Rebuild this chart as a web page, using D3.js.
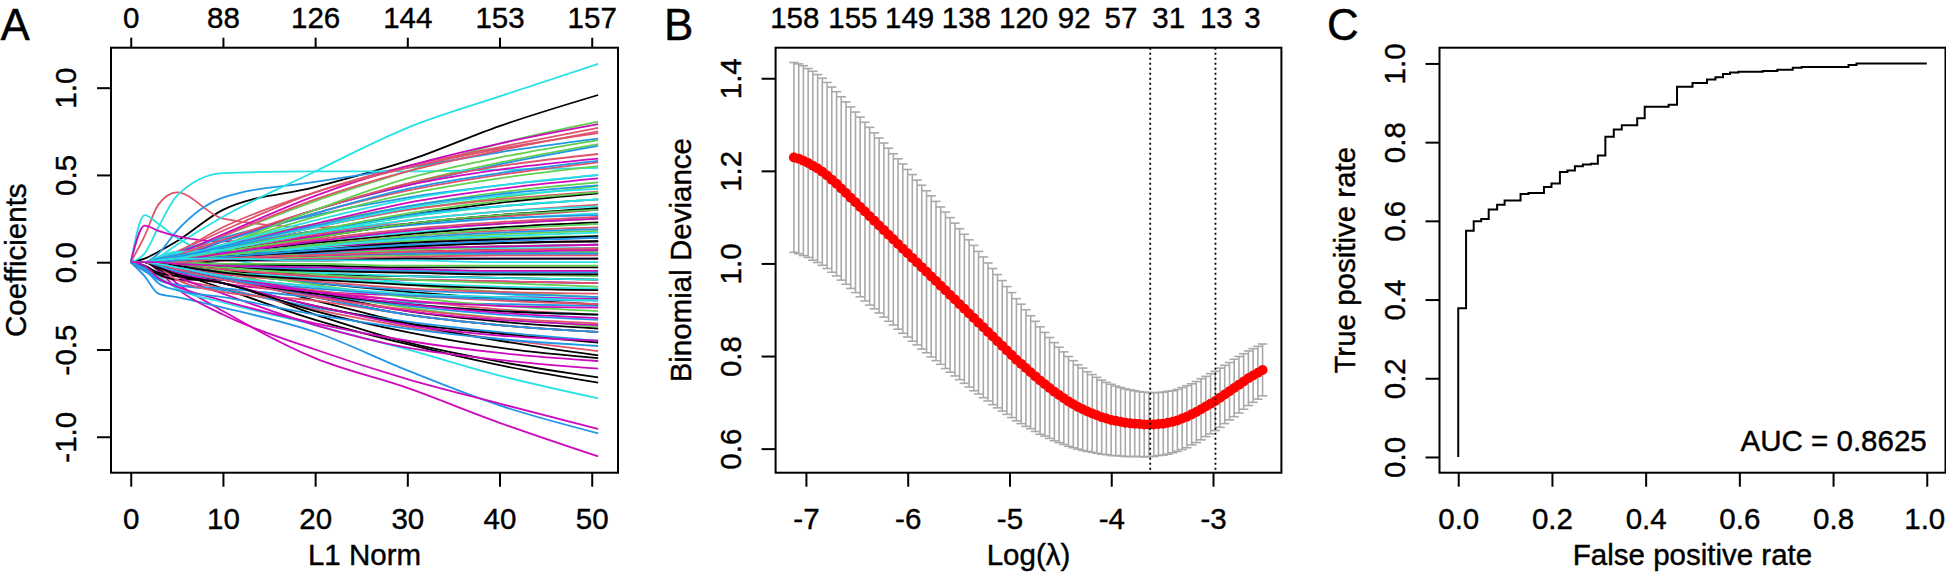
<!DOCTYPE html>
<html><head><meta charset="utf-8">
<script src="https://cdn.jsdelivr.net/npm/d3@7"></script>
<style>
html,body{margin:0;padding:0;background:#fff;}
svg{display:block;font-family:"Liberation Sans",Arial,Helvetica,sans-serif;}
svg text{stroke:#000;stroke-width:0.4px;}
</style></head><body>
<svg id="chart" width="1946" height="572"></svg>
<script>
// ---------------- Panel A: LASSO coefficient paths ----------------
const coefL1 = [0, 1.5, 3, 5, 10, 20, 30, 40, 50.7];
const coefPaths = [
  [0,0.02,0.06,0.12,0.30,0.43,0.58,0.78,0.958],
  [0,0.15,0.33,0.40,0.25,0.20,0.22,0.26,0.30],
  [0,0,0.01,0.05,0.15,0.35,0.52,0.68,0.806],
  [0,0,0.05,0.18,0.37,0.46,0.54,0.63,0.708],
  [0,0,0.03,0.10,0.26,0.52,0.77,0.95,1.136],
  [0,0,-0.04,-0.12,-0.28,-0.55,-0.72,-0.92,-1.113],

  [0,0,-0.02,-0.06,-0.15,-0.33,-0.47,-0.59,-0.69],
  [0,0,0.02,0.06,0.18,0.40,0.55,0.66,0.77],
  [0,0,0,0.03,0.12,0.30,0.45,0.57,0.676],
  [0,-0.08,-0.18,-0.20,-0.26,-0.40,-0.62,-0.82,-0.98],
  [0,0.05,0.20,0.38,0.51,0.52,0.52,0.53,0.54],
  [0,0,-0.05,-0.15,-0.30,-0.50,-0.67,-0.81,-0.956],

  [0,0,-0.04,-0.08,-0.12,-0.30,-0.46,-0.57,-0.66],
  [0,0,0.01,0.04,0.15,0.36,0.52,0.64,0.75],
  [0,0,0,0.02,0.10,0.22,0.32,0.40,0.457],
  [0,0,0,0.03,0.12,0.30,0.44,0.56,0.666],
  [0,0.27,0.22,0.14,0.03,-0.05,-0.12,-0.18,-0.22],
  [0,0.21,0.18,0.15,0.12,0.15,0.22,0.27,0.30],

  [0,0,0,0.02,0.08,0.18,0.27,0.34,0.395],
  [0,-0.05,-0.08,-0.10,-0.15,-0.27,-0.37,-0.44,-0.51],
  [0,0,0,0.01,0.08,0.20,0.30,0.37,0.436],
  [0,0,0.02,0.06,0.14,0.27,0.37,0.44,0.499],
  [0,-0.02,-0.08,-0.15,-0.23,-0.36,-0.50,-0.65,-0.78],
  [0,0,0.02,0.05,0.16,0.38,0.55,0.68,0.791],

  [0,-0.03,-0.07,-0.10,-0.10,-0.22,-0.35,-0.45,-0.534],
  [0,0,0.01,0.04,0.12,0.28,0.41,0.50,0.572],
  [0,0,0,-0.01,-0.06,-0.17,-0.26,-0.32,-0.37],
  [0,-0.03,-0.10,-0.13,-0.16,-0.26,-0.34,-0.40,-0.45],
  [0,0,0.02,0.05,0.10,0.17,0.22,0.25,0.28],
  [0,0,-0.02,-0.08,-0.18,-0.36,-0.49,-0.56,-0.61],

  [0,0,-0.02,-0.05,-0.12,-0.25,-0.35,-0.41,-0.46],
  [0,0,0,0.02,0.08,0.20,0.30,0.36,0.405],
  [0,0,0,0,0.04,0.12,0.18,0.22,0.25],
  [0,-0.05,-0.10,-0.13,-0.15,-0.20,-0.23,-0.24,-0.25],
  [0,0,0.01,0.02,0.05,0.08,0.10,0.11,0.12],
  [0,0,0.01,0.03,0.12,0.30,0.44,0.53,0.593],

  [0,-0.02,-0.06,-0.08,-0.10,-0.20,-0.30,-0.36,-0.40],
  [0,0,-0.03,-0.10,-0.17,-0.22,-0.30,-0.36,-0.40],
  [0,0,0,0.01,0.05,0.09,0.12,0.14,0.15],
  [0,0,0.01,0.04,0.09,0.16,0.21,0.25,0.27],
  [0,0,0,0.02,0.04,0.04,0.05,0.05,0.05],
  [0,-0.02,-0.09,-0.14,-0.22,-0.35,-0.45,-0.52,-0.566],

  [0,0,-0.01,-0.03,-0.08,-0.18,-0.28,-0.34,-0.38],
  [0,0,0.02,0.06,0.20,0.40,0.54,0.65,0.74],
  [0,0,0,0,-0.02,-0.08,-0.13,-0.17,-0.20],
  [0,0,0,0.02,0.05,0.07,0.08,0.09,0.10],
  [0,0,0.03,0.06,0.05,0.03,0.02,0.02,0.02],
  [0,0,-0.02,-0.06,-0.12,-0.17,-0.19,-0.20,-0.21],

  [0,0,-0.01,-0.03,-0.06,-0.12,-0.17,-0.21,-0.242],
  [0,0,0,0.02,0.07,0.16,0.24,0.29,0.33],
  [0,0,0,0,0.02,0.03,0.04,0.05,0.06],
  [0,0,-0.02,-0.04,-0.06,-0.09,-0.10,-0.11,-0.12],
  [0,0,0,0.02,0.06,0.12,0.17,0.20,0.22],
  [0,0,0,0.01,0.06,0.15,0.22,0.27,0.30],

  [0,0,0,0.01,0.05,0.11,0.16,0.20,0.228],
  [0,0,0,-0.02,-0.08,-0.16,-0.22,-0.27,-0.30],
  [0,0,0,0.02,0.07,0.17,0.26,0.32,0.36],
  [0,0,-0.01,-0.04,-0.09,-0.18,-0.25,-0.30,-0.33],
  [0,0,0,-0.02,-0.05,-0.09,-0.12,-0.14,-0.15],
  [0,0,0,0.02,0.05,0.09,0.11,0.13,0.14],

  [0,0,0,0,0.02,0.04,0.06,0.07,0.08],
  [0,0,0,0.01,0.04,0.10,0.15,0.18,0.20],
  [0,0,0,0,-0.02,-0.04,-0.06,-0.07,-0.08],
  [0,0,0.01,0.04,0.12,0.28,0.42,0.51,0.58],
  [0,0,0.01,0.03,0.08,0.17,0.24,0.29,0.32],
  [0,0,0,-0.03,-0.09,-0.19,-0.28,-0.33,-0.36],

  [0,0,0,-0.02,-0.05,-0.07,-0.08,-0.09,-0.10],
  [0,0,0,0.01,0.03,0.06,0.09,0.11,0.12],
  [0,0,0,0.02,0.10,0.26,0.39,0.48,0.55],
  [0,0,0,-0.02,-0.06,-0.12,-0.16,-0.18,-0.20],
  [0,0,0,0,-0.01,-0.03,-0.04,-0.05,-0.05],
  [0,0,0,0.02,0.09,0.22,0.34,0.42,0.48],

  [0,0,0,0.01,0.06,0.14,0.22,0.27,0.31],
  [0,0,-0.01,-0.03,-0.07,-0.11,-0.15,-0.17,-0.18],
  [0,0,0,0,0.03,0.09,0.13,0.16,0.18],
  [0,0,0,0.02,0.08,0.18,0.27,0.32,0.36],
  [0,0,0.02,0.05,0.07,0.07,0.08,0.08,0.08],
  [0,0,-0.01,-0.05,-0.12,-0.25,-0.36,-0.42,-0.45],

  [0,0,0,0,-0.01,-0.02,-0.03,-0.03,-0.03],
  [0,0,0,0,0.01,0.02,0.03,0.04,0.04],
  [0,0,0,-0.01,-0.05,-0.13,-0.20,-0.25,-0.28],
  [0,0,0,0.01,0.04,0.10,0.14,0.17,0.19],
  [0,0,0.01,0.03,0.09,0.20,0.31,0.38,0.42],
  [0,0,0,0,0.01,0.01,0.02,0.02,0.02],

  [0,0,0,0.01,0.03,0.07,0.11,0.13,0.15],
  [0,0,0,-0.01,-0.03,-0.05,-0.06,-0.07,-0.07],
  [0,0,0,0.01,0.06,0.14,0.22,0.27,0.30],
  [0,0,0,0,-0.02,-0.04,-0.05,-0.06,-0.06],
  [0,0,-0.02,-0.05,-0.10,-0.18,-0.24,-0.28,-0.30],
  [0,0,0,-0.01,-0.04,-0.08,-0.10,-0.11,-0.12],

  [0,0,0,0,0.01,0.01,0.02,0.02,0.02],
  [0,0,-0.01,-0.03,-0.08,-0.14,-0.19,-0.22,-0.24],
  [0,0,0,0,0.02,0.05,0.07,0.09,0.10],
  [0,0,0,-0.03,-0.09,-0.20,-0.30,-0.36,-0.40],
  [0,0,0,0.01,0.04,0.09,0.13,0.15,0.17],
  [0,0,0,0.01,0.02,0.04,0.05,0.06,0.07],

  [0,0,-0.01,-0.04,-0.10,-0.18,-0.24,-0.28,-0.30],
  [0,0,0.01,0.04,0.13,0.30,0.45,0.55,0.62],
  [0,0,0,0.02,0.10,0.30,0.48,0.60,0.70],
  [0,0,0.02,0.04,0.06,0.05,0.05,0.05,0.05],
  [0,0,0,-0.01,-0.03,-0.06,-0.08,-0.09,-0.10],
  [0,0,-0.01,-0.04,-0.10,-0.17,-0.22,-0.25,-0.26],

  [0,0,-0.03,-0.07,-0.12,-0.28,-0.40,-0.49,-0.55],
  [0,0,0,-0.01,-0.04,-0.08,-0.10,-0.11,-0.12],
  [0,0,0,0.01,0.07,0.18,0.28,0.35,0.40],
  [0,0,-0.02,-0.05,-0.10,-0.15,-0.19,-0.21,-0.22],
  [0,0,0.01,0.03,0.10,0.24,0.36,0.44,0.50],
  [0,0,0,0.01,0.03,0.06,0.08,0.09,0.10],

  [0,0,0,-0.02,-0.06,-0.10,-0.13,-0.15,-0.16],
  [0,0,0,0.01,0.05,0.13,0.19,0.23,0.26],
  [0,0,0,0,-0.01,-0.01,-0.02,-0.02,-0.02],
  [0,-0.04,-0.12,-0.16,-0.20,-0.30,-0.38,-0.44,-0.48],
  [0,0,0,0.02,0.07,0.17,0.26,0.32,0.36],
  [0,0,-0.01,-0.03,-0.08,-0.17,-0.24,-0.29,-0.32],

  [0,0,0,0.01,0.03,0.06,0.09,0.11,0.12],
  [0,0,-0.01,-0.04,-0.10,-0.20,-0.27,-0.32,-0.35],
  [0,0,0,0.01,0.04,0.10,0.15,0.19,0.22],
  [0,0,0.01,0.03,0.09,0.21,0.32,0.39,0.44],
  [0,0,-0.01,-0.03,-0.08,-0.14,-0.18,-0.20,-0.22],
  [0,0,0,0.01,0.05,0.12,0.18,0.22,0.25],

  [0,0,0,-0.01,-0.03,-0.05,-0.06,-0.07,-0.07],
  [0,0,0,0,0.02,0.04,0.06,0.07,0.08],
  [0,0,0,-0.01,-0.03,-0.07,-0.10,-0.12,-0.14],
  [0,0,0,0.01,0.03,0.07,0.10,0.12,0.14],
  [0,0,0.01,0.02,0.02,0.01,0.01,0.00,0.00],
  [0,0,0,-0.01,-0.02,-0.03,-0.04,-0.05,-0.05]
];
const pathPalette = ["#000000","#DF536B","#61D04F","#2297E6","#28E2E5","#CD0BBC"];
const aBottomTicks = [0, 10, 20, 30, 40, 50];
const aBottomLabels = ["0","10","20","30","40","50"];
const aTopLabels = ["0","88","126","144","153","157"];
const aLeftTicks = [-1.0, -0.5, 0, 0.5, 1.0];
const aLeftLabels = ["-1.0","-0.5","0.0","0.5","1.0"];

// ---------------- Panel B: cross-validation curve ----------------
const logLambda = [
-7.118,-7.071,-7.025,-6.978,-6.932,-6.885,-6.839,-6.792,-6.746,-6.699,
-6.653,-6.606,-6.560,-6.513,-6.467,-6.420,-6.374,-6.327,-6.281,-6.234,
-6.188,-6.141,-6.095,-6.048,-6.001,-5.955,-5.908,-5.862,-5.815,-5.769,
-5.722,-5.676,-5.629,-5.583,-5.536,-5.490,-5.443,-5.397,-5.350,-5.304,
-5.257,-5.211,-5.164,-5.118,-5.071,-5.025,-4.978,-4.932,-4.885,-4.838,
-4.792,-4.745,-4.699,-4.652,-4.606,-4.559,-4.513,-4.466,-4.420,-4.373,
-4.327,-4.280,-4.234,-4.187,-4.141,-4.094,-4.048,-4.001,-3.955,-3.908,
-3.862,-3.815,-3.769,-3.722,-3.676,-3.629,-3.582,-3.536,-3.489,-3.443,
-3.396,-3.350,-3.303,-3.257,-3.210,-3.164,-3.117,-3.071,-3.024,-2.978,
-2.931,-2.885,-2.838,-2.792,-2.745,-2.699,-2.652,-2.606,-2.559,-2.513];
const cvMean = [
1.229,1.226,1.222,1.217,1.211,1.205,1.198,1.190,1.181,1.172,
1.162,1.152,1.142,1.132,1.122,1.112,1.102,1.092,1.082,1.072,
1.062,1.052,1.042,1.032,1.022,1.012,1.002,0.992,0.982,0.972,
0.962,0.952,0.942,0.932,0.922,0.912,0.902,0.892,0.882,0.872,
0.862,0.852,0.842,0.832,0.822,0.812,0.802,0.792,0.783,0.774,
0.765,0.756,0.747,0.739,0.731,0.723,0.716,0.709,0.702,0.696,
0.690,0.685,0.680,0.676,0.672,0.668,0.665,0.662,0.660,0.658,
0.656,0.655,0.654,0.653,0.652,0.652,0.652,0.653,0.654,0.656,
0.658,0.661,0.665,0.669,0.674,0.679,0.685,0.691,0.697,0.703,
0.710,0.717,0.724,0.731,0.738,0.745,0.752,0.758,0.764,0.770];
const cvSd = [
0.205,0.205,0.205,0.204,0.204,0.203,0.202,0.201,0.200,0.199,
0.198,0.197,0.196,0.195,0.194,0.193,0.192,0.190,0.189,0.188,
0.187,0.185,0.184,0.183,0.181,0.180,0.178,0.177,0.175,0.174,
0.172,0.170,0.169,0.167,0.165,0.163,0.161,0.159,0.157,0.154,
0.152,0.149,0.147,0.144,0.141,0.138,0.135,0.132,0.129,0.126,
0.122,0.119,0.116,0.112,0.109,0.106,0.103,0.100,0.097,0.094,
0.091,0.089,0.086,0.084,0.082,0.080,0.078,0.077,0.075,0.074,
0.073,0.072,0.071,0.070,0.070,0.069,0.069,0.068,0.068,0.068,
0.067,0.067,0.067,0.067,0.066,0.066,0.066,0.065,0.065,0.064,
0.064,0.063,0.062,0.062,0.061,0.060,0.059,0.058,0.057,0.056];
const lambdaMarks = [-3.617, -2.976];
const bTopPos = [-7.114, -6.544, -5.986, -5.428, -4.866, -4.369, -3.909, -3.441, -2.972, -2.617];
const bTopLabels = ["158","155","149","138","120","92","57","31","13","3"];
const bBottomTicks = [-7, -6, -5, -4, -3];
const bBottomLabels = ["-7","-6","-5","-4","-3"];
const bLeftTicks = [0.6, 0.8, 1.0, 1.2, 1.4];
const bLeftLabels = ["0.6","0.8","1.0","1.2","1.4"];

// ---------------- Panel C: ROC curve ----------------
const rocFpr = [0,0,0.0167,0.033,0.049,0.065,0.083,0.099,0.133,0.150,
  0.183,0.199,0.217,0.233,0.249,0.266,0.283,0.298,0.314,0.332,
  0.349,0.382,0.398,0.449,0.467,0.500,0.531,0.549,0.565,0.580,
  0.598,0.650,0.681,0.714,0.733,0.833,0.850,1.0];
const rocTpr = [0,0.378,0.575,0.599,0.605,0.629,0.641,0.652,0.668,0.671,
  0.686,0.695,0.724,0.728,0.739,0.743,0.745,0.766,0.814,0.832,
  0.843,0.861,0.890,0.895,0.941,0.950,0.959,0.965,0.973,0.977,
  0.979,0.981,0.984,0.989,0.991,0.996,1.0,1.0];
const cTicks = [0, 0.2, 0.4, 0.6, 0.8, 1.0];
const cLabels = ["0.0","0.2","0.4","0.6","0.8","1.0"];
const aucText = "AUC = 0.8625";

// ---------------- drawing ----------------
const svg = d3.select("#chart");
const FS = 29.5;
const TOP = 47.7, BOT = 472.7;
const FONT = '"Liberation Sans",Arial,Helvetica,sans-serif';

function styleAxis(g){
  g.attr("font-size", FS).attr("font-family", FONT);
  g.select(".domain").remove();
  g.selectAll(".tick line").attr("stroke", "#000").attr("stroke-width", 2);
  g.selectAll(".tick text").attr("fill", "#000");
}
function bottomAxis(x, ticks, labels){
  const g = svg.append("g").attr("transform", `translate(0,${BOT})`)
    .call(d3.axisBottom(x).tickValues(ticks).tickFormat((d,i)=>labels[i]).tickSize(14).tickPadding(21));
  styleAxis(g);
  return g;
}
function leftAxis(x0, y, ticks, labels){
  const g = svg.append("g").attr("transform", `translate(${x0},0)`)
    .call(d3.axisLeft(y).tickValues(ticks).tickFormat((d,i)=>labels[i]).tickSize(14));
  styleAxis(g);
  g.selectAll(".tick text").attr("x", 0).attr("dy", "0.35em").attr("text-anchor", "middle")
    .attr("transform", "translate(-45,0) rotate(-90)");
}
function frame(x0, x1){
  svg.append("rect").attr("x", x0).attr("y", TOP).attr("width", x1 - x0).attr("height", BOT - TOP)
    .attr("fill", "none").attr("stroke", "#000").attr("stroke-width", 2);
}
function yTitle(x0, txt){
  svg.append("text").attr("transform", `translate(${x0 - 95},${(TOP + BOT) / 2}) rotate(-90)`)
    .attr("dy", "0.35em").attr("text-anchor", "middle").attr("font-size", FS).attr("font-family", FONT).text(txt);
}
function xTitle(cx, txt){
  svg.append("text").attr("x", cx).attr("y", 565).attr("text-anchor", "middle")
    .attr("font-size", FS).attr("font-family", FONT).text(txt);
}
function panelLetter(x, txt){
  svg.append("text").attr("x", x).attr("y", 40).attr("font-size", 44).attr("font-family", FONT).text(txt);
}

// Panel A
const xA = d3.scaleLinear().domain([-2.14, 52.85]).range([111, 618]);
const yA = d3.scaleLinear().domain([-1.206, 1.229]).range([BOT, TOP]);
svg.append("clipPath").attr("id", "clipA").append("rect")
  .attr("x", 111).attr("y", TOP).attr("width", 507).attr("height", BOT - TOP);
const lineA = d3.line().x((d, i) => xA(coefL1[i])).y(d => yA(d)).curve(d3.curveMonotoneX);
svg.append("g").attr("clip-path", "url(#clipA)").selectAll("path").data(coefPaths).join("path")
  .attr("d", lineA).attr("fill", "none")
  .attr("stroke", (d, i) => pathPalette[i % pathPalette.length]).attr("stroke-width", 1.8);
frame(111, 618);
bottomAxis(xA, aBottomTicks, aBottomLabels);
leftAxis(111, yA, aLeftTicks, aLeftLabels);
{
  const g = svg.append("g").attr("transform", `translate(0,${TOP})`)
    .call(d3.axisTop(xA).tickValues(aBottomTicks).tickFormat((d,i)=>aTopLabels[i]).tickSize(10).tickPadding(9.7));
  styleAxis(g);
}
yTitle(111, "Coefficients");
xTitle(364.5, "L1 Norm");
panelLetter(0.5, "A");

// Panel B
const xB = d3.scaleLinear().domain([-7.298, -2.328]).range([775.6, 1281.4]);
const yB = d3.scaleLinear().domain([0.548, 1.466]).range([BOT, TOP]);
const barW = 0.046;
const bars = svg.append("g").attr("stroke", "#A9A9A9").attr("stroke-width", 1.6);
logLambda.forEach((l, i) => {
  const up = cvMean[i] + cvSd[i], lo = cvMean[i] - cvSd[i];
  bars.append("line").attr("x1", xB(l)).attr("x2", xB(l)).attr("y1", yB(up)).attr("y2", yB(lo));
  bars.append("line").attr("x1", xB(l - barW)).attr("x2", xB(l + barW)).attr("y1", yB(up)).attr("y2", yB(up));
  bars.append("line").attr("x1", xB(l - barW)).attr("x2", xB(l + barW)).attr("y1", yB(lo)).attr("y2", yB(lo));
});
svg.append("g").selectAll("circle").data(logLambda).join("circle")
  .attr("cx", d => xB(d)).attr("cy", (d, i) => yB(cvMean[i])).attr("r", 5).attr("fill", "#FF0000");
svg.append("g").selectAll("line").data(lambdaMarks).join("line")
  .attr("x1", d => xB(d)).attr("x2", d => xB(d)).attr("y1", TOP).attr("y2", BOT)
  .attr("stroke", "#000").attr("stroke-width", 1.8).attr("stroke-dasharray", "2,3");
frame(775.6, 1281.4);
bottomAxis(xB, bBottomTicks, bBottomLabels);
leftAxis(775.6, yB, bLeftTicks, bLeftLabels);
{
  const g = svg.append("g").attr("transform", `translate(0,${TOP})`)
    .call(d3.axisTop(xB).tickValues(bTopPos).tickFormat((d,i)=>bTopLabels[i]).tickSize(0).tickPadding(19.7));
  styleAxis(g);
}
yTitle(775.6, "Binomial Deviance");
xTitle(1028.5, "Log(\u03BB)");
panelLetter(664, "B");

// Panel C
const xC = d3.scaleLinear().domain([-0.04, 1.04]).range([1439.5, 1945.5]);
const yC = d3.scaleLinear().domain([-0.04, 1.04]).range([BOT, TOP]);
const rocLine = d3.line().x((d, i) => xC(rocFpr[i])).y(d => yC(d)).curve(d3.curveStepAfter);
svg.append("path").datum(rocTpr).attr("d", rocLine).attr("fill", "none")
  .attr("stroke", "#000").attr("stroke-width", 2);
frame(1439.5, 1945.5);
const cBottom = bottomAxis(xC, cTicks, cLabels);
// keep the last label inside the page edge
cBottom.selectAll(".tick text").filter((d, i) => i === cTicks.length - 1).attr("dx", -2.5);
leftAxis(1439.5, yC, cTicks, cLabels);
svg.append("text").attr("x", xC(1.0)).attr("y", 450.5).attr("text-anchor", "end")
  .attr("font-size", FS).attr("font-family", FONT).text(aucText);
yTitle(1439.5, "True positive rate");
xTitle(1692.5, "False positive rate");
panelLetter(1327, "C");
</script>
</body></html>
